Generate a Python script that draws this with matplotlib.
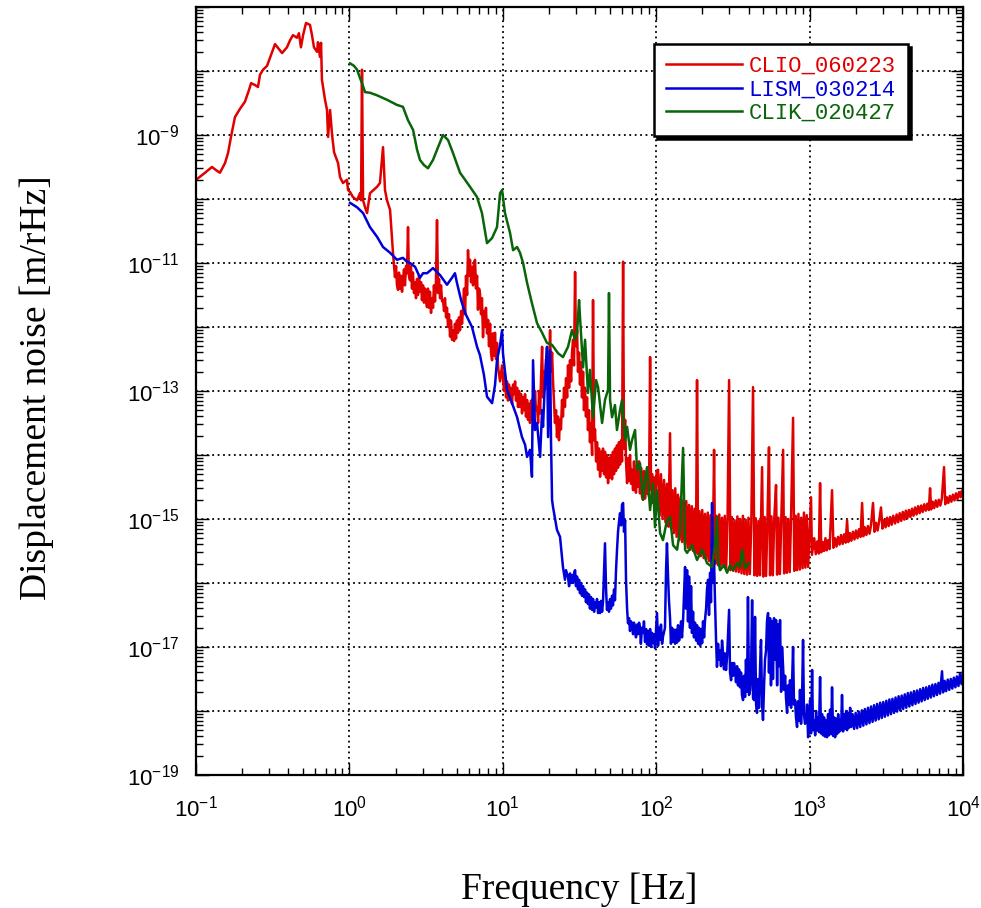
import numpy as np
import matplotlib
matplotlib.use('Agg')
import matplotlib.pyplot as plt
from matplotlib.ticker import LogLocator, FuncFormatter, NullFormatter

plt.rcParams['font.family'] = ['Liberation Sans', 'DejaVu Sans']

# displacement noise spectra,
# pairs of (log10 f [Hz], log10 x [m/rHz])
clio_pts = [
    (-1.000, -9.70), (-0.941, -9.59), (-0.896, -9.50), (-0.863, -9.56), (-0.844, -9.59),
    (-0.811, -9.44), (-0.791, -9.28), (-0.772, -9.03), (-0.746, -8.72), (-0.713, -8.59),
    (-0.681, -8.48), (-0.655, -8.30), (-0.641, -8.19), (-0.615, -8.22), (-0.596, -8.25),
    (-0.583, -8.06), (-0.563, -7.98), (-0.537, -7.92), (-0.511, -7.75), (-0.485, -7.58),
    (-0.465, -7.64), (-0.439, -7.72), (-0.407, -7.63), (-0.387, -7.52), (-0.368, -7.44),
    (-0.342, -7.48), (-0.329, -7.41), (-0.316, -7.63), (-0.302, -7.44), (-0.283, -7.25),
    (-0.257, -7.28), (-0.244, -7.44), (-0.231, -7.63), (-0.211, -7.70), (-0.205, -7.55),
    (-0.192, -7.78), (-0.185, -7.56), (-0.179, -8.14), (-0.159, -8.45), (-0.146, -8.61),
    (-0.139, -9.03), (-0.126, -8.61), (-0.113, -9.00), (-0.100, -9.27), (-0.074, -9.44),
    (-0.061, -9.66), (-0.042, -9.75), (-0.016, -9.70), (-0.009, -9.86), (0.004, -9.89),
    (0.023, -9.97), (0.050, -10.02), (0.069, -9.91), (0.076, -10.02), (0.082, -7.98),
    (0.089, -10.02), (0.102, -10.13), (0.115, -10.22), (0.134, -9.91), (0.180, -9.81),
    (0.199, -9.75), (0.219, -9.19), (0.232, -9.86), (0.245, -10.02), (0.265, -10.17),
    (0.284, -10.84),
    (0.297, -11.22), (0.304, -11.05), (0.310, -11.35), (0.317, -11.42), (0.323, -11.15),
    (0.330, -11.40), (0.336, -11.20), (0.343, -11.45), (0.349, -11.27), (0.356, -11.10),
    (0.362, -11.35), (0.369, -11.05), (0.375, -11.16), (0.382, -10.44), (0.388, -11.20),
    (0.395, -11.27), (0.401, -11.05), (0.408, -11.40), (0.414, -11.15), (0.421, -11.47),
    (0.428, -11.30), (0.434, -11.55), (0.441, -11.25), (0.447, -11.50), (0.454, -11.20),
    (0.460, -11.45), (0.467, -11.30), (0.473, -11.58), (0.480, -11.35), (0.486, -11.62),
    (0.493, -11.40), (0.499, -11.60), (0.506, -11.69), (0.512, -11.40), (0.519, -11.70),
    (0.525, -11.45), (0.532, -11.78), (0.538, -11.55), (0.545, -11.70), (0.551, -11.35),
    (0.558, -11.60), (0.564, -11.30), (0.571, -10.33), (0.578, -11.47), (0.584, -11.25),
    (0.591, -11.55), (0.597, -11.35), (0.604, -11.60), (0.610, -11.58), (0.617, -11.75),
    (0.623, -11.55), (0.630, -11.85), (0.636, -11.70), (0.643, -12.00), (0.649, -11.80),
    (0.656, -12.15), (0.662, -11.90), (0.669, -12.20), (0.675, -12.05), (0.682, -12.22),
    (0.688, -11.95), (0.695, -12.18), (0.701, -11.90), (0.708, -12.09), (0.714, -11.85),
    (0.721, -12.05), (0.728, -11.75), (0.734, -11.95), (0.741, -11.70), (0.747, -11.40),
    (0.754, -11.80), (0.760, -11.20), (0.767, -11.50), (0.773, -10.80), (0.780, -11.20),
    (0.786, -10.95), (0.793, -11.30), (0.799, -11.06), (0.806, -11.35), (0.812, -11.00),
    (0.819, -10.95), (0.825, -11.40), (0.832, -11.20), (0.838, -11.73), (0.845, -11.40),
    (0.851, -11.47), (0.858, -11.80), (0.864, -11.55), (0.871, -12.16), (0.877, -11.75),
    (0.884, -12.00), (0.890, -11.70), (0.897, -12.10), (0.904, -11.89), (0.910, -12.30),
    (0.917, -11.95), (0.923, -12.40), (0.930, -12.52), (0.936, -12.10), (0.943, -12.45),
    (0.949, -12.09), (0.956, -12.50), (0.962, -12.25),
    (0.969, -12.63), (0.982, -12.85), (0.995, -12.60), (1.008, -13.00), (1.014, -12.75),
    (1.021, -13.10), (1.027, -12.85), (1.034, -13.15), (1.040, -12.90), (1.047, -13.14),
    (1.053, -12.95), (1.060, -13.20), (1.067, -12.90), (1.073, -13.05), (1.080, -12.85),
    (1.086, -13.15), (1.093, -12.95), (1.099, -13.25), (1.106, -13.00), (1.112, -13.25),
    (1.119, -13.05), (1.125, -13.35), (1.132, -13.10), (1.138, -13.30), (1.145, -13.05),
    (1.151, -13.40), (1.158, -13.14), (1.164, -13.45), (1.171, -13.20), (1.177, -13.50),
    (1.184, -13.15), (1.190, -13.45), (1.197, -13.10), (1.203, -13.40), (1.210, -13.00),
    (1.216, -13.30), (1.223, -13.25), (1.230, -13.50), (1.236, -13.00), (1.243, -13.35),
    (1.249, -12.80), (1.256, -12.31), (1.262, -13.10), (1.269, -12.70), (1.275, -12.98),
    (1.282, -12.50), (1.288, -12.90), (1.295, -12.40), (1.301, -12.75), (1.308, -12.05),
    (1.314, -12.70), (1.321, -12.40), (1.327, -12.83), (1.334, -13.20), (1.340, -13.50),
    (1.347, -13.30), (1.353, -13.72), (1.360, -13.40), (1.366, -13.77), (1.373, -13.45),
    (1.379, -13.60), (1.386, -13.14), (1.392, -13.40), (1.399, -12.95), (1.405, -13.25),
    (1.412, -12.80), (1.419, -13.10), (1.425, -12.60), (1.432, -12.95), (1.438, -12.52),
    (1.445, -12.85), (1.451, -12.40), (1.458, -12.20), (1.464, -12.60), (1.471, -11.14),
    (1.477, -12.30), (1.484, -12.05), (1.490, -12.70), (1.497, -12.40), (1.503, -12.90),
    (1.510, -12.55), (1.516, -13.10), (1.523, -12.70), (1.529, -13.30), (1.536, -12.95),
    (1.542, -13.40), (1.549, -13.10), (1.555, -13.61), (1.562, -13.30), (1.568, -13.80),
    (1.575, -13.50), (1.582, -14.00), (1.588, -11.58), (1.595, -13.77), (1.601, -13.60),
    (1.608, -14.10), (1.614, -13.80), (1.621, -14.23), (1.627, -13.90), (1.634, -14.34),
    (1.640, -13.95), (1.647, -14.25), (1.653, -13.90), (1.660, -14.30), (1.666, -13.95),
    (1.673, -14.35), (1.679, -14.00), (1.686, -14.44), (1.692, -14.05), (1.699, -14.35),
    (1.705, -14.00), (1.712, -14.38), (1.718, -13.95), (1.725, -14.30), (1.731, -13.90),
    (1.738, -14.25), (1.744, -13.85), (1.751, -14.20), (1.757, -13.80), (1.764, -14.15),
    (1.771, -13.77), (1.777, -14.10), (1.784, -10.98), (1.790, -13.90), (1.797, -13.45),
    (1.803, -14.10), (1.810, -14.44), (1.816, -14.05), (1.823, -14.40), (1.829, -14.00),
    (1.836, -14.45), (1.842, -14.23), (1.849, -14.55), (1.855, -14.10), (1.862, -14.50),
    (1.868, -14.59), (1.875, -14.15), (1.881, -14.50), (1.888, -14.10), (1.894, -14.60),
    (1.901, -14.20), (1.907, -14.65), (1.914, -14.70), (1.920, -14.25), (1.927, -14.68),
    (1.933, -14.30), (1.940, -14.60), (1.947, -14.20), (1.953, -14.65), (1.960, -12.47),
    (1.966, -14.55), (1.973, -14.30), (1.979, -14.75), (1.986, -14.35), (1.992, -14.81),
    (2.003, -14.25), (2.012, -14.23), (2.022, -14.95), (2.031, -14.30), (2.041, -15.00),
    (2.051, -14.39), (2.060, -15.05), (2.070, -14.45), (2.080, -15.12), (2.090, -13.66),
    (2.097, -15.15), (2.106, -14.55), (2.115, -15.22), (2.124, -14.52), (2.133, -15.28),
    (2.142, -14.62), (2.151, -15.33), (2.160, -14.66), (2.169, -15.36), (2.178, -14.70),
    (2.187, -15.40), (2.196, -14.72), (2.205, -15.45), (2.214, -14.78), (2.223, -15.48),
    (2.232, -14.80), (2.241, -15.50), (2.250, -14.84), (2.259, -15.53), (2.266, -12.83),
    (2.273, -15.55), (2.282, -14.88), (2.291, -15.58), (2.300, -14.86), (2.309, -15.61),
    (2.318, -14.92), (2.327, -15.63), (2.336, -14.90), (2.345, -15.66), (2.354, -14.94),
    (2.363, -15.67), (2.372, -14.96), (2.377, -13.92), (2.384, -15.70), (2.393, -14.95),
    (2.402, -15.72), (2.411, -14.93), (2.420, -15.73), (2.429, -14.98), (2.438, -15.75),
    (2.447, -14.95), (2.456, -15.77), (2.465, -15.00), (2.475, -12.83), (2.484, -15.80),
    (2.493, -14.97), (2.502, -15.81), (2.511, -15.02), (2.520, -15.82), (2.529, -14.96),
    (2.538, -15.83), (2.547, -15.00), (2.556, -15.85), (2.565, -14.95), (2.574, -15.86),
    (2.583, -15.01), (2.592, -15.87), (2.601, -14.98), (2.610, -15.86), (2.620, -15.03),
    (2.631, -12.94), (2.640, -15.88), (2.649, -14.99), (2.658, -15.89), (2.667, -15.03),
    (2.676, -15.88), (2.690, -14.19), (2.698, -15.90), (2.707, -14.97), (2.716, -15.89),
    (2.725, -15.02), (2.735, -13.88), (2.742, -15.88), (2.751, -14.96), (2.760, -15.88),
    (2.769, -15.01), (2.781, -14.47), (2.788, -15.87), (2.797, -14.98), (2.806, -15.86),
    (2.815, -15.02), (2.827, -13.92), (2.834, -15.85), (2.843, -14.97), (2.852, -15.84),
    (2.861, -15.00), (2.870, -15.83), (2.879, -14.96), (2.892, -13.42), (2.900, -15.81),
    (2.909, -14.95), (2.918, -15.80), (2.927, -14.92), (2.936, -15.79), (2.945, -14.98),
    (2.954, -15.77), (2.963, -14.90), (2.972, -15.76), (2.981, -14.94), (2.990, -15.75),
    (3.009, -14.66), (3.015, -15.56), (3.030, -15.30), (3.040, -15.55), (3.050, -15.35),
    (3.060, -15.54), (3.068, -14.44), (3.076, -15.52), (3.085, -15.36), (3.094, -15.50),
    (3.103, -15.30), (3.112, -15.49), (3.121, -15.33), (3.130, -15.47), (3.146, -14.55),
    (3.155, -15.45), (3.165, -15.30), (3.175, -15.43), (3.185, -15.28), (3.195, -15.40),
    (3.205, -15.25), (3.215, -15.39), (3.225, -15.24), (3.235, -15.37), (3.244, -15.02),
    (3.252, -15.36), (3.262, -15.22), (3.272, -15.34), (3.282, -15.20), (3.292, -15.32),
    (3.302, -15.18), (3.312, -15.30), (3.322, -15.16), (3.332, -15.28), (3.342, -14.75),
    (3.350, -15.27), (3.360, -15.13), (3.370, -15.25), (3.380, -15.11), (3.390, -15.23),
    (3.400, -15.10), (3.413, -14.75), (3.423, -15.20), (3.433, -15.06), (3.443, -15.18),
    (3.453, -15.04), (3.465, -14.82), (3.475, -15.15), (3.485, -15.02), (3.495, -15.13),
    (3.505, -14.98), (3.515, -15.11), (3.525, -14.97), (3.535, -15.09), (3.545, -14.95),
    (3.557, -15.07), (3.567, -14.93), (3.577, -15.05), (3.587, -14.91), (3.597, -15.03),
    (3.607, -14.89), (3.617, -15.01), (3.627, -14.87), (3.637, -14.99), (3.647, -14.86),
    (3.657, -14.97), (3.667, -14.84), (3.677, -14.95), (3.687, -14.82), (3.697, -14.93),
    (3.707, -14.80), (3.717, -14.91), (3.727, -14.79), (3.737, -14.89), (3.747, -14.77),
    (3.757, -14.87), (3.767, -14.76), (3.777, -14.86), (3.785, -14.52), (3.792, -14.85),
    (3.802, -14.73), (3.812, -14.83), (3.822, -14.71), (3.832, -14.81), (3.842, -14.70),
    (3.852, -14.79), (3.862, -14.68), (3.876, -14.19), (3.884, -14.77), (3.894, -14.66),
    (3.904, -14.75), (3.914, -14.64), (3.924, -14.73), (3.934, -14.62), (3.944, -14.71),
    (3.954, -14.60), (3.964, -14.69), (3.974, -14.58), (3.984, -14.66), (3.992, -14.56),
    (4.000, -14.62)]

lism_pts = [
    (0.004, -10.06), (0.050, -10.13), (0.089, -10.22), (0.134, -10.44), (0.180, -10.59),
    (0.219, -10.75), (0.265, -10.84), (0.310, -10.95), (0.349, -10.92), (0.375, -10.98),
    (0.395, -11.00), (0.428, -11.06), (0.460, -11.23), (0.480, -11.16), (0.506, -11.16),
    (0.545, -11.08), (0.591, -11.19), (0.636, -11.34), (0.669, -11.23), (0.688, -11.16),
    (0.701, -11.31), (0.728, -11.58), (0.754, -11.78), (0.799, -12.00), (0.832, -12.31),
    (0.851, -12.44), (0.877, -12.75), (0.897, -13.09), (0.930, -13.19), (0.949, -12.91),
    (0.962, -12.52), (0.982, -12.28), (0.995, -12.05), (1.001, -12.41), (1.027, -12.98),
    (1.060, -13.19), (1.093, -13.41), (1.125, -13.72), (1.145, -13.84), (1.158, -14.03),
    (1.177, -13.92), (1.190, -14.34), (1.197, -12.52), (1.210, -13.61), (1.223, -13.50),
    (1.243, -14.03), (1.256, -13.30), (1.262, -13.56), (1.275, -12.83), (1.288, -12.31),
    (1.295, -13.72), (1.308, -12.36), (1.314, -13.77), (1.321, -14.70), (1.327, -14.81),
    (1.353, -15.17), (1.373, -15.28),
    (1.392, -15.75), (1.405, -15.95), (1.412, -15.80), (1.425, -15.91), (1.432, -16.05),
    (1.438, -15.85), (1.445, -16.00), (1.451, -15.88), (1.458, -16.00), (1.464, -15.85),
    (1.471, -15.80), (1.477, -16.05), (1.484, -15.90), (1.490, -16.10), (1.497, -15.95),
    (1.503, -16.16), (1.510, -16.00), (1.516, -16.20), (1.523, -16.05), (1.529, -16.22),
    (1.536, -16.10), (1.542, -16.30), (1.549, -16.15), (1.555, -16.33), (1.562, -16.18),
    (1.568, -16.40), (1.575, -16.22), (1.582, -16.42), (1.588, -16.25), (1.595, -16.45),
    (1.601, -16.30), (1.608, -16.38), (1.614, -16.25), (1.621, -16.47), (1.627, -16.30),
    (1.634, -16.47), (1.640, -16.28), (1.647, -16.45), (1.653, -16.30), (1.660, -15.80),
    (1.666, -15.38), (1.673, -16.10), (1.679, -16.42), (1.686, -16.30), (1.692, -16.45),
    (1.699, -16.25), (1.705, -16.40), (1.712, -16.20), (1.718, -16.35), (1.725, -16.10),
    (1.731, -16.27), (1.738, -15.80), (1.744, -15.50), (1.751, -15.20), (1.757, -15.05),
    (1.764, -14.91), (1.771, -15.10), (1.777, -14.78), (1.784, -14.75), (1.790, -15.20),
    (1.797, -15.02), (1.803, -15.95), (1.810, -16.40), (1.816, -16.63), (1.823, -16.55),
    (1.829, -16.75), (1.836, -16.60), (1.842, -16.66), (1.849, -16.80), (1.855, -16.62),
    (1.862, -16.73), (1.868, -16.85), (1.875, -16.65), (1.881, -16.80), (1.888, -16.62),
    (1.894, -16.69), (1.900, -16.95), (1.907, -16.70), (1.914, -16.78), (1.920, -16.60),
    (1.927, -16.92), (1.934, -16.72), (1.940, -16.96), (1.947, -16.75), (1.953, -16.98),
    (1.960, -16.72), (1.966, -17.00), (1.973, -16.78), (1.979, -16.94), (1.986, -16.80),
    (1.992, -17.02), (2.005, -16.47), (2.012, -16.98), (2.018, -16.70), (2.025, -16.89),
    (2.031, -16.65), (2.038, -16.95), (2.044, -16.84), (2.057, -16.70), (2.064, -15.80),
    (2.070, -15.38), (2.077, -15.90), (2.083, -16.27), (2.090, -16.55), (2.096, -16.95),
    (2.103, -16.70), (2.110, -16.92), (2.116, -16.73), (2.123, -16.95), (2.129, -16.73),
    (2.136, -16.93), (2.142, -16.66), (2.149, -16.90), (2.155, -16.78), (2.162, -16.60),
    (2.168, -16.85), (2.175, -16.58), (2.181, -16.20), (2.188, -15.75), (2.194, -16.40),
    (2.201, -15.80), (2.207, -16.60), (2.214, -15.90), (2.220, -16.70), (2.227, -16.05),
    (2.233, -16.78), (2.240, -16.45), (2.246, -16.85), (2.253, -16.62), (2.260, -16.90),
    (2.266, -16.66), (2.273, -16.95), (2.279, -16.70), (2.286, -16.98), (2.292, -16.72),
    (2.299, -16.94), (2.305, -16.60), (2.312, -16.85), (2.318, -16.58), (2.325, -16.40),
    (2.331, -16.10), (2.338, -15.95), (2.344, -16.50), (2.351, -15.84), (2.357, -16.30),
    (2.364, -14.75), (2.370, -16.00), (2.377, -15.64), (2.383, -16.27), (2.390, -16.90),
    (2.396, -17.31), (2.403, -16.95), (2.409, -17.20), (2.416, -17.05), (2.422, -17.30),
    (2.429, -16.90), (2.435, -17.09), (2.442, -17.35), (2.448, -17.10), (2.455, -17.36),
    (2.462, -17.15), (2.475, -16.42), (2.481, -17.40), (2.488, -17.52), (2.494, -17.25),
    (2.501, -17.45), (2.507, -17.25), (2.514, -17.36), (2.520, -17.55), (2.527, -17.30),
    (2.533, -17.60), (2.540, -17.35), (2.546, -17.63), (2.553, -17.40), (2.559, -17.75),
    (2.566, -17.83), (2.572, -17.45), (2.579, -17.78), (2.585, -17.20), (2.592, -17.70),
    (2.598, -16.22), (2.605, -17.75), (2.612, -17.67), (2.618, -17.40), (2.625, -16.27),
    (2.631, -17.80), (2.638, -17.83), (2.644, -16.53), (2.651, -17.90), (2.657, -18.03),
    (2.664, -17.50), (2.670, -17.95), (2.677, -17.30), (2.683, -16.89), (2.690, -17.90),
    (2.696, -18.14), (2.703, -17.60), (2.709, -17.20), (2.716, -17.05), (2.722, -16.60),
    (2.729, -16.47), (2.735, -17.40), (2.742, -16.55), (2.748, -17.60), (2.755, -16.60),
    (2.761, -17.50), (2.768, -16.55), (2.775, -17.20), (2.781, -16.58), (2.788, -17.60),
    (2.794, -16.65), (2.801, -17.30), (2.807, -16.58), (2.814, -17.70), (2.820, -17.00),
    (2.827, -17.31), (2.833, -17.67), (2.840, -17.45), (2.846, -17.80), (2.853, -18.03),
    (2.859, -17.60), (2.866, -17.90), (2.872, -17.52), (2.879, -17.95), (2.885, -17.60),
    (2.892, -17.00), (2.898, -17.90), (2.905, -17.83), (2.911, -18.10), (2.918, -18.25),
    (2.924, -17.85), (2.931, -18.15), (2.937, -17.67), (2.944, -18.20), (2.950, -17.90),
    (2.957, -16.89), (2.963, -18.05), (2.970, -18.20), (2.977, -18.14), (2.983, -17.90),
    (2.990, -18.41), (2.996, -18.20), (3.003, -17.83), (3.009, -18.35), (3.016, -17.36),
    (3.022, -18.30), (3.029, -18.15), (3.036, -18.38), (3.042, -18.00), (3.048, -18.30),
    (3.055, -18.10), (3.061, -18.33), (3.068, -17.47), (3.074, -18.35), (3.081, -18.05),
    (3.087, -18.38), (3.094, -18.10), (3.100, -18.40), (3.107, -18.15), (3.113, -18.41),
    (3.120, -18.05), (3.126, -18.38), (3.133, -17.98), (3.140, -18.36), (3.146, -17.63),
    (3.153, -18.39), (3.160, -18.10), (3.166, -18.41), (3.173, -18.12), (3.179, -18.36),
    (3.186, -18.05), (3.192, -18.33), (3.198, -18.14), (3.205, -18.30), (3.211, -17.75),
    (3.218, -18.32), (3.225, -18.05), (3.231, -18.28), (3.238, -18.00), (3.244, -18.30),
    (3.251, -18.03), (3.258, -18.26), (3.264, -17.95), (3.271, -18.25), (3.280, -18.05),
    (3.290, -18.28), (3.300, -18.03), (3.310, -18.27), (3.320, -18.01), (3.330, -18.25),
    (3.340, -17.99), (3.350, -18.23), (3.360, -17.97), (3.370, -18.21), (3.380, -17.95),
    (3.390, -18.19), (3.400, -17.93), (3.410, -18.17), (3.420, -17.91), (3.430, -18.15),
    (3.440, -17.89), (3.450, -18.13), (3.460, -17.87), (3.470, -18.11), (3.480, -17.86),
    (3.490, -18.09), (3.500, -17.84), (3.510, -18.07), (3.520, -17.82), (3.530, -18.05),
    (3.540, -17.81), (3.550, -18.03), (3.560, -17.79), (3.570, -18.01), (3.580, -17.77),
    (3.590, -17.99), (3.600, -17.76), (3.610, -17.97), (3.620, -17.74), (3.630, -17.95),
    (3.640, -17.72), (3.650, -17.93), (3.660, -17.71), (3.670, -17.91), (3.680, -17.69),
    (3.690, -17.89), (3.700, -17.68), (3.710, -17.87), (3.720, -17.66), (3.730, -17.85),
    (3.740, -17.64), (3.750, -17.83), (3.760, -17.63), (3.770, -17.81), (3.780, -17.61),
    (3.790, -17.79), (3.800, -17.59), (3.810, -17.77), (3.820, -17.58), (3.830, -17.75),
    (3.840, -17.56), (3.850, -17.73), (3.863, -17.38), (3.870, -17.71), (3.880, -17.53),
    (3.890, -17.69), (3.900, -17.51), (3.910, -17.67), (3.920, -17.50), (3.930, -17.65),
    (3.940, -17.48), (3.950, -17.63), (3.960, -17.46), (3.970, -17.61), (3.980, -17.42),
    (3.990, -17.58), (4.000, -17.40)]

clik_pts = [
    (0.004, -7.88), (0.030, -7.92), (0.050, -7.98), (0.069, -8.11), (0.082, -8.19),
    (0.102, -8.33), (0.134, -8.34), (0.180, -8.38), (0.245, -8.45), (0.310, -8.53),
    (0.349, -8.56), (0.382, -8.77), (0.415, -8.92), (0.441, -9.23), (0.460, -9.39),
    (0.486, -9.47), (0.512, -9.52), (0.545, -9.39), (0.578, -9.19), (0.610, -9.00),
    (0.643, -9.08), (0.675, -9.28), (0.721, -9.59), (0.754, -9.70), (0.786, -9.81),
    (0.832, -9.97), (0.864, -10.22), (0.897, -10.69), (0.930, -10.61), (0.962, -10.44),
    (0.982, -9.91), (0.995, -9.86), (1.014, -10.22), (1.047, -10.53), (1.067, -10.80),
    (1.093, -10.75), (1.112, -10.84), (1.132, -11.00), (1.158, -11.31), (1.190, -11.63),
    (1.223, -11.94), (1.256, -12.09), (1.288, -12.25), (1.321, -12.28), (1.360, -12.41),
    (1.392, -12.47), (1.425, -12.31), (1.451, -12.05), (1.471, -12.20), (1.484, -12.09),
    (1.497, -11.58), (1.503, -11.84), (1.523, -12.63), (1.536, -12.20), (1.555, -13.03),
    (1.568, -12.67), (1.588, -13.41), (1.608, -12.83), (1.621, -12.94), (1.647, -13.50),
    (1.666, -13.14), (1.686, -12.98), (1.692, -11.47), (1.699, -13.14), (1.712, -13.41),
    (1.731, -13.22), (1.744, -13.61), (1.764, -13.30), (1.777, -13.14), (1.797, -13.77),
    (1.810, -13.56), (1.829, -13.92), (1.842, -13.77), (1.862, -13.61), (1.875, -14.23),
    (1.894, -14.13), (1.914, -14.70), (1.927, -14.39), (1.940, -14.19), (1.960, -14.86),
    (1.979, -14.44), (1.992, -15.13), (2.005, -14.55), (2.025, -15.22), (2.044, -15.33),
    (2.070, -15.02), (2.090, -14.97), (2.110, -15.41), (2.136, -15.48), (2.155, -15.17),
    (2.175, -13.89), (2.188, -15.48), (2.201, -15.53), (2.233, -15.41), (2.266, -15.64),
    (2.299, -15.48), (2.331, -15.69), (2.364, -15.75), (2.383, -15.41), (2.396, -14.97),
    (2.403, -15.64), (2.416, -15.80), (2.442, -15.72), (2.462, -15.84), (2.481, -15.72),
    (2.501, -15.80), (2.527, -15.69), (2.546, -15.75), (2.559, -15.48), (2.579, -15.77),
    (2.605, -15.69)]

series = [('CLIO_060223', clio_pts, '#e00000'),
          ('LISM_030214', lism_pts, '#0000d8'),
          ('CLIK_020427', clik_pts, '#0a640a')]

fig = plt.figure(figsize=(9.81, 9.08), dpi=100)
ax = fig.add_axes([0.1998, 0.1465, 0.7819, 0.8458])

for name, pts, col in series:
    lf, lx = np.array(pts).T
    ax.loglog(10 ** lf, 10 ** lx, color=col, linewidth=1.8, label=name)

ax.set_xlim(1e-1, 1e4)
ax.set_ylim(1e-19, 1e-7)

ax.xaxis.set_major_locator(LogLocator(base=10, numticks=20))
ax.yaxis.set_major_locator(LogLocator(base=10, numticks=20))
ax.xaxis.set_minor_locator(LogLocator(base=10, subs=np.arange(2, 10), numticks=100))
ax.yaxis.set_minor_locator(LogLocator(base=10, subs=np.arange(2, 10), numticks=100))
ax.xaxis.set_minor_formatter(NullFormatter())
ax.yaxis.set_minor_formatter(NullFormatter())


def xlab(v, pos):
    return r'$\mathregular{10^{%d}}$' % int(round(np.log10(v)))


def ylab(v, pos):
    e = int(round(np.log10(v)))
    # only every other decade is labelled, from 1e-9 down
    return r'$\mathregular{10^{%d}}$' % e if (e % 2 and e <= -9) else ''


ax.xaxis.set_major_formatter(FuncFormatter(xlab))
ax.yaxis.set_major_formatter(FuncFormatter(ylab))

ax.tick_params(which='both', direction='in', top=True, right=True, width=1.0, labelsize=16)
ax.tick_params(which='major', length=9)
ax.tick_params(which='minor', length=5)
ax.tick_params(axis='x', pad=15)
ax.tick_params(axis='y', pad=12)
for sp in ax.spines.values():
    sp.set_linewidth(1.6)

ax.grid(True, which='major', color='k', linestyle=(0, (1, 2)), linewidth=1.3)
ax.set_axisbelow(True)

ax.set_xlabel('Frequency [Hz]', family='Liberation Serif', fontsize=27)
ax.set_ylabel('Displacement noise [m/rHz]', family='Liberation Serif', fontsize=27)
ax.xaxis.set_label_coords(0.5, -0.127)
ax.yaxis.set_label_coords(-0.185, 0.504)

leg = ax.legend(loc='upper right', bbox_to_anchor=(0.928, 0.952), fancybox=False,
                edgecolor='k', framealpha=1, shadow={'color': 'k', 'alpha': 1},
                prop={'family': 'Liberation Mono', 'size': 16},
                handlelength=3.4, handletextpad=0.3, labelspacing=0.1,
                borderpad=0.55, borderaxespad=0)
leg.get_frame().set_linewidth(1.8)
for txt, ln in zip(leg.get_texts(), leg.get_lines()):
    txt.set_color(ln.get_color())

fig.savefig('out.png', dpi=100)
